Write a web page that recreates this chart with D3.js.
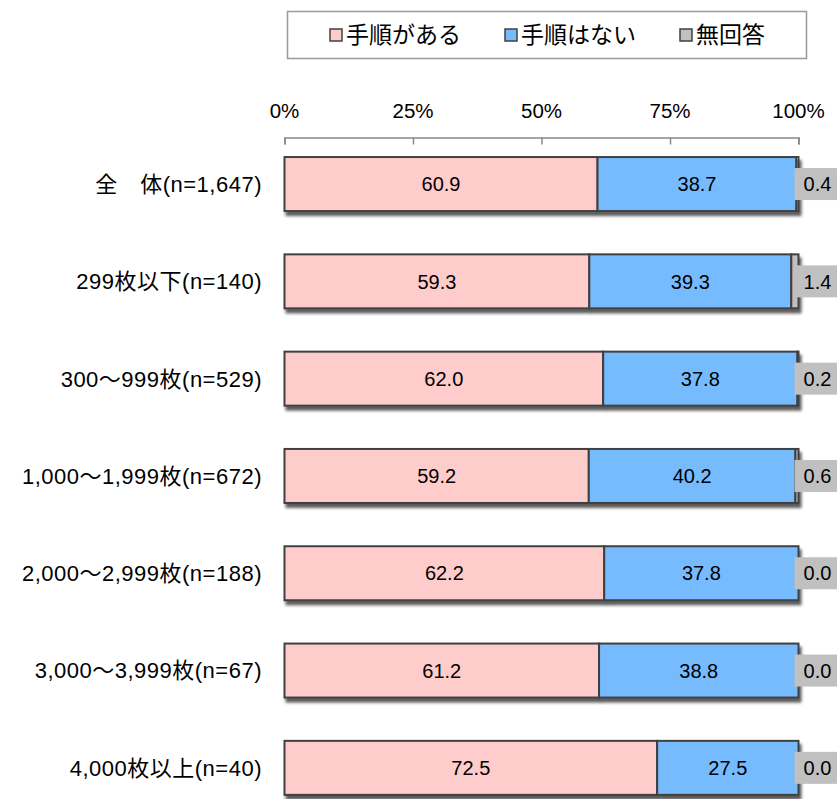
<!DOCTYPE html>
<html>
<head>
<meta charset="utf-8">
<script src="https://cdn.jsdelivr.net/npm/d3@7"></script>
<style>
  body { margin: 0; background: #fff; }
  text { font-family: "Liberation Sans", Arial, "Noto Sans CJK JP", sans-serif; fill: #000; }
</style>
</head>
<body>
<div id="chart"></div>
<script>
// data
var categories = ["全　体(n=1,647)", "299枚以下(n=140)", "300～999枚(n=529)", "1,000～1,999枚(n=672)",
                  "2,000～2,999枚(n=188)", "3,000～3,999枚(n=67)", "4,000枚以上(n=40)"];
var seriesNames = ["手順がある", "手順はない", "無回答"];
var hasProcedure = [60.9, 59.3, 62.0, 59.2, 62.2, 61.2, 72.5];
var noProcedure  = [38.7, 39.3, 37.8, 40.2, 37.8, 38.8, 27.5];
var noAnswer     = [0.4, 1.4, 0.2, 0.6, 0.0, 0.0, 0.0];
var ticks = [0, 25, 50, 75, 100];
var colors = ["#ffcccc", "#77bbff", "#c0c0c0"];

var width = 837, height = 799;
var svg = d3.select("#chart").append("svg").attr("width", width).attr("height", height);

var defs = svg.append("defs");
var f = defs.append("filter").attr("id", "shadow").attr("x", "-5%").attr("y", "-10%").attr("width", "115%").attr("height", "140%");
f.append("feGaussianBlur").attr("in", "SourceAlpha").attr("stdDeviation", 1.6).attr("result", "b");
f.append("feOffset").attr("in", "b").attr("dx", 2).attr("dy", 4).attr("result", "o");
f.append("feComponentTransfer").attr("in", "o").attr("result", "s")
  .append("feFuncA").attr("type", "linear").attr("slope", 0.65);
var m = f.append("feMerge");
m.append("feMergeNode").attr("in", "s");
m.append("feMergeNode").attr("in", "SourceGraphic");

var x = d3.scaleLinear().domain([0, 100]).range([284.5, 798.5]);
var y = d3.scaleBand().domain(categories).range([135.4, 816.5]).paddingInner(0.445).paddingOuter(0.2225);

// axis on top
var axis = svg.append("g").attr("transform", "translate(0,137.5)")
  .call(d3.axisBottom(x).tickValues(ticks).tickSize(7).tickFormat(function(d) { return ""; }));
axis.select(".domain").attr("stroke", "#888").attr("stroke-width", 1.5);
axis.selectAll(".tick line").attr("stroke", "#888").attr("stroke-width", 1.5);

svg.append("g").selectAll("text").data(ticks).enter().append("text")
  .attr("x", function(d) { return x(d); })
  .attr("y", 118)
  .attr("text-anchor", "middle")
  .style("font-size", "20.5px")
  .text(function(d) { return d + "%"; });

// stacked bars
var rows = categories.map(function(c, i) {
  return { cat: c, vals: [hasProcedure[i], noProcedure[i], noAnswer[i]] };
});

var row = svg.append("g").selectAll("g").data(rows).enter().append("g");

row.each(function(d) {
  var g = d3.select(this);
  var x0 = 0;
  var segs = d.vals.map(function(v, k) { var s = { k: k, v: v, a: x0 }; x0 += v; return s; });
  var bars = g.append("g").attr("filter", "url(#shadow)");
  bars.selectAll("rect").data(segs).enter().append("rect")
    .attr("x", function(s) { return x(s.a); })
    .attr("y", y(d.cat))
    .attr("width", function(s) { return x(s.a + s.v) - x(s.a); })
    .attr("height", y.bandwidth())
    .attr("fill", function(s) { return colors[s.k]; })
    .attr("stroke", "#404040")
    .attr("stroke-width", 2);

  var cy = y(d.cat) + y.bandwidth() / 2;
  segs.slice(0, 2).forEach(function(s) {
    g.append("text")
      .attr("x", x(s.a + s.v / 2))
      .attr("y", cy)
      .attr("dy", "0.36em")
      .attr("text-anchor", "middle")
      .style("font-size", "20px")
      .text(s.v.toFixed(1));
  });

  // grey label box for no answer
  g.append("rect")
    .attr("x", x(100) - 4).attr("y", cy - 16)
    .attr("width", 44).attr("height", 32)
    .attr("fill", colors[2]);
  g.append("text")
    .attr("x", x(100) + 19).attr("y", cy)
    .attr("dy", "0.36em")
    .attr("text-anchor", "middle")
    .style("font-size", "20px")
    .text(d.vals[2].toFixed(1));

  g.append("text")
    .attr("x", 262).attr("y", cy)
    .attr("dy", "0.36em")
    .attr("text-anchor", "end")
    .style("font-size", "22px")
    .style("letter-spacing", "0.5px")
    .text(d.cat);
});

// legend
var legend = svg.append("g");
legend.append("rect").attr("x", 287.5).attr("y", 11.5).attr("width", 519).attr("height", 47)
  .attr("fill", "#fff").attr("stroke", "#999").attr("stroke-width", 1.5);
var legendX = [330, 505, 680];
var li = legend.selectAll("g.item").data(seriesNames).enter().append("g").attr("class", "item")
  .attr("transform", function(d, i) { return "translate(" + legendX[i] + ",35)"; });
li.append("rect").attr("x", 0).attr("y", -6).attr("width", 12).attr("height", 12)
  .attr("fill", function(d, i) { return colors[i]; })
  .attr("stroke", "#404040").attr("stroke-width", 1.5);
li.append("text").attr("x", 16).attr("dy", "0.36em")
  .style("font-size", "23px")
  .text(function(d) { return d; });
</script>
</body>
</html>
